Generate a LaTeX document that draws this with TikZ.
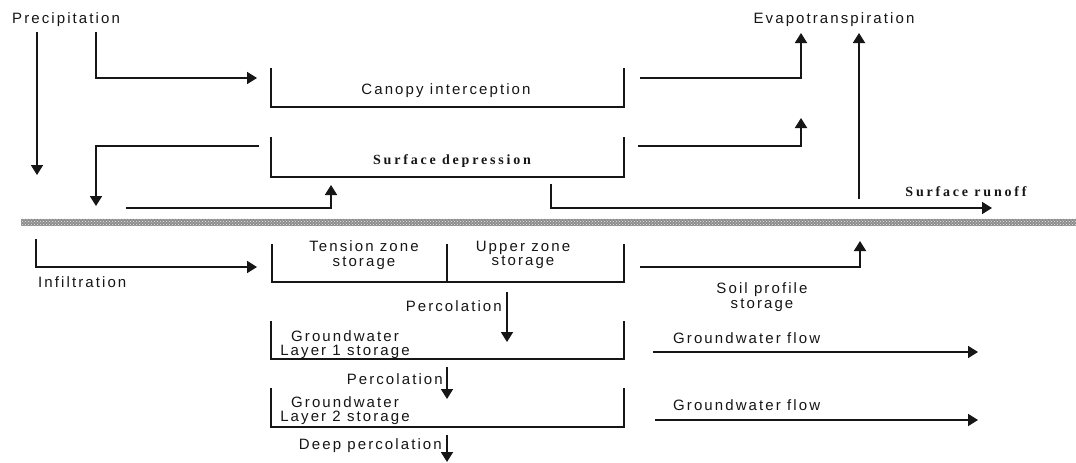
\documentclass[tikz,border=0pt]{standalone}
\usepackage{fontspec}
\setmainfont{Liberation Sans}
\newfontfamily\lsans[LetterSpace=14]{Liberation Sans}
\newfontfamily\lserif[LetterSpace=20]{Liberation Serif}
\usetikzlibrary{arrows.meta,patterns}
\definecolor{ink}{HTML}{161616}
\definecolor{band}{HTML}{8C8C8C}
\tikzset{
  lbl/.style={inner sep=0pt, text=ink, font=\lsans\fontsize{15}{14.5}\selectfont, align=center},
  slbl/.style={inner sep=0pt, text=ink, font=\lserif\bfseries\fontsize{14}{14.5}\selectfont},
  wall/.style={draw=ink, line width=1.8pt, line cap=rect},
  flow/.style={draw=ink, line width=1.8pt, -{Triangle[length=10pt,width=12pt]}},
}
\begin{document}
\begin{tikzpicture}[x=1pt,y=-1pt]
\useasboundingbox[fill=white] (0,0) rectangle (1076,463);

% ground surface band
\fill[band] (21,218.5) rectangle (1076,225.5);
\fill[pattern=crosshatch dots, pattern color=white!85!band] (21,218.5) rectangle (1076,225.5);

% ---- texts ----
\node[lbl, anchor=west] (prec) at (12,20) {Precipitation};
\node[lbl] (evap) at (834,20) {Evapotranspiration};
\node[lbl] (canopy) at (446,91) {Canopy interception};
\node[slbl] (sdep) at (452,161) {Surface depression};
\node[slbl] (runoff) at (966,192) {Surface runoff};
\node[lbl, anchor=west] (infil) at (38,282) {Infiltration};
\node[lbl] (tension) at (364,255) {Tension zone\\storage};
\node[lbl] (upper) at (523,255) {Upper zone\\storage};
\node[lbl, anchor=east] (perc1) at (502,306) {Percolation};
\node[lbl] (soil) at (762,297) {Soil profile\\storage};
\node[lbl] (gw1) at (345,344.5) {Groundwater\\Layer 1 storage};
\node[lbl, anchor=west] (gwf1) at (673,338) {Groundwater flow};
\node[lbl, anchor=east] (perc2) at (443,379) {Percolation};
\node[lbl] (gw2) at (345,410.5) {Groundwater\\Layer 2 storage};
\node[lbl, anchor=west] (gwf2) at (673,405) {Groundwater flow};
\node[lbl, anchor=east] (deep) at (442,446) {Deep percolation};

% ---- open-top boxes ----
\coordinate (cbTL) at (271,69);  \coordinate (cbBL) at (271,107);
\coordinate (cbBR) at (624,107); \coordinate (cbTR) at (624,69);
\draw[wall] (cbTL) -- (cbBL) -- (cbBR) -- (cbTR);

\coordinate (sbTL) at (271,138); \coordinate (sbBL) at (271,177);
\coordinate (sbBR) at (624,177); \coordinate (sbTR) at (624,138);
\draw[wall] (sbTL) -- (sbBL) -- (sbBR) -- (sbTR);

\coordinate (zbTL) at (272,245); \coordinate (zbBL) at (272,282);
\coordinate (zbBR) at (624,282); \coordinate (zbTR) at (624,245);
\coordinate (zbDT) at (447,245); \coordinate (zbDB) at (447,282);
\draw[wall] (zbTL) -- (zbBL) -- (zbBR) -- (zbTR);
\draw[wall] (zbDT) -- (zbDB);

\coordinate (g1TL) at (271,322); \coordinate (g1BL) at (271,359);
\coordinate (g1BR) at (624,359); \coordinate (g1TR) at (624,322);
\draw[wall] (g1TL) -- (g1BL) -- (g1BR) -- (g1TR);

\coordinate (g2TL) at (271,389); \coordinate (g2BL) at (271,427);
\coordinate (g2BR) at (624,427); \coordinate (g2TR) at (624,389);
\draw[wall] (g2TL) -- (g2BL) -- (g2BR) -- (g2TR);

% ---- connectors ----
\coordinate (a1s) at (37,32);   \coordinate (a1e) at (37,175);
\draw[flow] (a1s) -- (a1e);

\coordinate (a2s) at (96,32);   \coordinate (a2e) at (257,78);
\draw[flow] (a2s) |- (a2e);

\coordinate (a3s) at (640,78);  \coordinate (a3e) at (801,33);
\draw[flow] (a3s) -| (a3e);

\coordinate (a4s) at (859,199); \coordinate (a4e) at (859,33);
\draw[flow] (a4s) -- (a4e);

\coordinate (a5s) at (259,146); \coordinate (a5e) at (96,206);
\draw[flow] (a5s) -| (a5e);

\coordinate (a6s) at (126,208); \coordinate (a6e) at (331,185);
\draw[flow] (a6s) -| (a6e);

\coordinate (a7s) at (638,146); \coordinate (a7e) at (801,118);
\draw[flow] (a7s) -| (a7e);

\coordinate (a8s) at (551,184); \coordinate (a8e) at (992,208);
\draw[flow] (a8s) |- (a8e);

\coordinate (a9s) at (36,239);  \coordinate (a9e) at (257,267);
\draw[flow] (a9s) |- (a9e);

\coordinate (a10s) at (640,267); \coordinate (a10e) at (860,241);
\draw[flow] (a10s) -| (a10e);

\coordinate (a11s) at (507,292); \coordinate (a11e) at (507,342);
\draw[flow] (a11s) -- (a11e);

\coordinate (a12s) at (653,352); \coordinate (a12e) at (978,352);
\draw[flow] (a12s) -- (a12e);

\coordinate (a13s) at (447,367); \coordinate (a13e) at (447,399);
\draw[flow] (a13s) -- (a13e);

\coordinate (a14s) at (655,420); \coordinate (a14e) at (978,420);
\draw[flow] (a14s) -- (a14e);

\coordinate (a15s) at (447,435); \coordinate (a15e) at (447,462);
\draw[flow] (a15s) -- (a15e);
\end{tikzpicture}
\end{document}
